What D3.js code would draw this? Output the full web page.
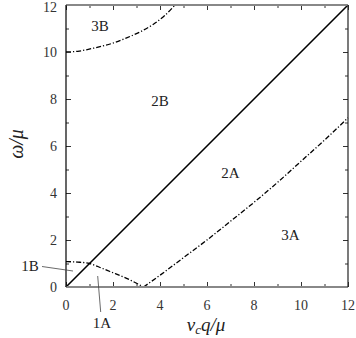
<!DOCTYPE html>
<html>
<head>
<meta charset="utf-8">
<script src="https://cdn.jsdelivr.net/npm/d3@7"></script>
<style>
  body { margin: 0; background: #fff; }
  svg text { font-family: "Liberation Serif", "Times New Roman", "DejaVu Serif", serif; }
</style>
</head>
<body>
<div id="chart"></div>
<script>
// boundary curves, [vq/mu, omega/mu]
const diagonal = [[0, 0], [12, 12]];
const upperBranch = [[0, 10.0], [0.5, 10.03], [1.16, 10.16], [2, 10.38], [2.58, 10.6], [3.2, 10.88], [3.72, 11.18], [4.2, 11.55], [4.64, 12.0]];
const lowBranch = [[0, 1.08], [0.5, 1.06], [1, 1.0], [1.5, 0.81], [1.87, 0.66], [2.58, 0.37], [3.3, 0]];
const riseBranch = [[3.3, 0], [4, 0.5], [5, 1.25], [6, 2.0], [7, 2.8], [8, 3.6], [9, 4.45], [10, 5.35], [11, 6.25], [12, 7.2]];
const regions = [
  { t: "3B", q: 1.45, w: 11.1 },
  { t: "2B", q: 4.0, w: 7.9 },
  { t: "2A", q: 7.0, w: 4.85 },
  { t: "3A", q: 9.55, w: 2.2 }
];
const xTicks = [0, 2, 4, 6, 8, 10, 12];
const yTicks = [0, 2, 4, 6, 8, 10, 12];

const W = 356, H = 338;
const margin = { top: 5, right: 8, bottom: 51, left: 66 };
const innerW = W - margin.left - margin.right;
const innerH = H - margin.top - margin.bottom;
const serif = '"Liberation Serif", "Times New Roman", "DejaVu Serif", serif';

const x = d3.scaleLinear().domain([0, 12]).range([0, innerW]);
const y = d3.scaleLinear().domain([0, 12]).range([innerH, 0]);

const svg = d3.select("#chart").append("svg").attr("width", W).attr("height", H);
const g = svg.append("g").attr("transform", `translate(${margin.left},${margin.top})`);

const line = d3.line().x(d => x(d[0])).y(d => y(d[1])).curve(d3.curveMonotoneX);
const dashDot = "5,2,1.2,2";

g.append("path").datum(diagonal).attr("d", line)
  .attr("fill", "none").attr("stroke", "#000").attr("stroke-width", 1.6);
[upperBranch, lowBranch, riseBranch].forEach(c => {
  g.append("path").datum(c).attr("d", line)
    .attr("fill", "none").attr("stroke", "#000").attr("stroke-width", 1.3)
    .attr("stroke-dasharray", dashDot);
});

// inward ticks, minor every 1, longer at even values
const minor = d3.range(0, 13);
g.append("g").attr("transform", `translate(0,${innerH})`)
  .call(d3.axisBottom(x).tickValues(minor).tickSizeOuter(0).tickFormat(""))
  .call(s => s.selectAll(".tick line").attr("stroke", "#333").attr("y2", d => d % 2 ? -3 : -5));
g.append("g")
  .call(d3.axisTop(x).tickValues(minor).tickSizeOuter(0).tickFormat(""))
  .call(s => s.selectAll(".tick line").attr("stroke", "#333").attr("y2", d => d % 2 ? 3 : 5));
g.append("g")
  .call(d3.axisLeft(y).tickValues(minor).tickSizeOuter(0).tickFormat(""))
  .call(s => s.selectAll(".tick line").attr("stroke", "#333").attr("x2", d => d % 2 ? 3 : 5));
g.append("g").attr("transform", `translate(${innerW},0)`)
  .call(d3.axisRight(y).tickValues(minor).tickSizeOuter(0).tickFormat(""))
  .call(s => s.selectAll(".tick line").attr("stroke", "#333").attr("x2", d => d % 2 ? -3 : -5));
g.selectAll(".domain").remove();

// frame
g.append("line").attr("x1", 0).attr("x2", innerW).attr("y1", 0).attr("y2", 0).attr("stroke", "#888").attr("stroke-width", 2);
g.append("line").attr("x1", 0).attr("x2", innerW).attr("y1", innerH).attr("y2", innerH).attr("stroke", "#888").attr("stroke-width", 2);
g.append("line").attr("x1", 0).attr("x2", 0).attr("y1", 0).attr("y2", innerH).attr("stroke", "#000").attr("stroke-width", 1.2);
g.append("line").attr("x1", innerW).attr("x2", innerW).attr("y1", 0).attr("y2", innerH).attr("stroke", "#222").attr("stroke-width", 1.2);

// tick labels
g.selectAll("text.xt").data(xTicks).join("text").attr("class", "xt")
  .attr("x", d => x(d)).attr("y", innerH + 23)
  .attr("text-anchor", "middle").attr("fill", "#333")
  .attr("font-family", serif).style("font-size", "14px").text(d => d);
g.selectAll("text.yt").data(yTicks).join("text").attr("class", "yt")
  .attr("x", -9).attr("y", d => Math.max(y(d) + 5, 7))
  .attr("text-anchor", "end").attr("fill", "#333")
  .attr("font-family", serif).style("font-size", "14px").text(d => d);

// region labels
g.selectAll("text.rg").data(regions).join("text").attr("class", "rg")
  .attr("x", d => x(d.q)).attr("y", d => y(d.w) + 5)
  .attr("text-anchor", "middle").attr("fill", "#222")
  .attr("font-family", serif).style("font-size", "15px").text(d => d.t);

// 1B / 1A with pointer lines
svg.append("text").attr("x", 30).attr("y", 271).attr("text-anchor", "middle")
  .attr("font-family", serif).attr("fill", "#222").style("font-size", "15px").text("1B");
svg.append("line").attr("x1", 42).attr("y1", 266.5).attr("x2", 73).attr("y2", 271)
  .attr("stroke", "#444").attr("stroke-width", 0.8);
svg.append("text").attr("x", 102).attr("y", 328).attr("text-anchor", "middle")
  .attr("font-family", serif).attr("fill", "#222").style("font-size", "15px").text("1A");
svg.append("line").attr("x1", 97.7).attr("y1", 276).attr("x2", 100.7).attr("y2", 312)
  .attr("stroke", "#444").attr("stroke-width", 0.8);

// axis titles
const xt = svg.append("text").attr("x", 206).attr("y", 331).attr("text-anchor", "middle")
  .attr("font-family", serif).attr("fill", "#222").style("font-size", "19px").style("font-style", "italic");
xt.append("tspan").text("v");
xt.append("tspan").attr("dy", 3).style("font-size", "13px").text("c");
xt.append("tspan").attr("dy", -3).text("q/μ");

svg.append("text").attr("transform", "translate(23,144) rotate(-90)").attr("text-anchor", "middle")
  .attr("font-family", serif).attr("fill", "#222").style("font-size", "20px").style("font-style", "italic").text("ω/μ");
</script>
</body>
</html>
